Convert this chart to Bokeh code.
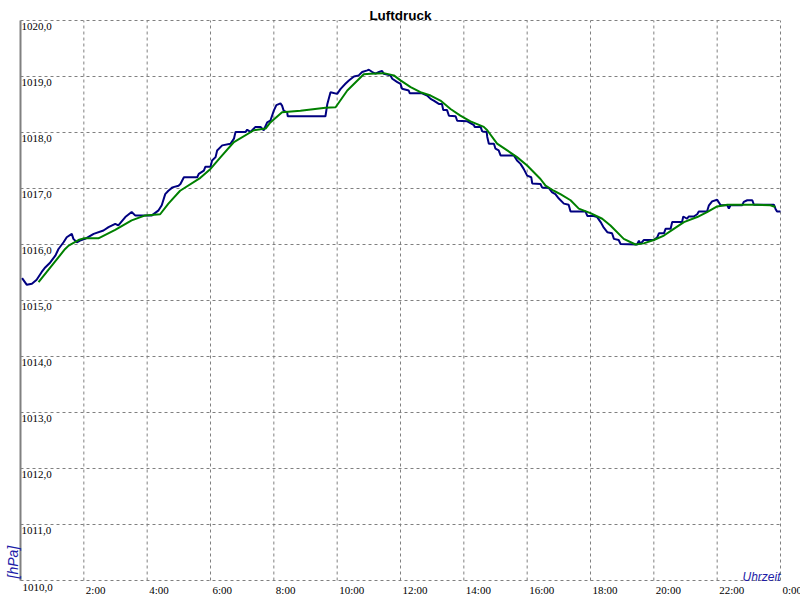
import math
from bokeh.plotting import figure
from bokeh.models import ColumnDataSource, LabelSet, Label, Range1d
from bokeh.embed import file_html
from bokeh.resources import INLINE

# ---- data (hours of day, pressure in hPa) ----
blue_t = [0.05, 0.20, 0.36, 0.51, 0.67, 0.78, 0.94, 1.10, 1.20, 1.36, 1.46, 1.62, 1.67, 1.78, 1.88,
          2.04, 2.31, 2.62, 2.78, 2.99, 3.09, 3.31, 3.51, 3.62, 4.15, 4.36, 4.46, 4.57, 4.67, 4.80,
          4.99, 5.05, 5.16, 5.58, 5.63, 5.79, 5.84, 6.00, 6.05, 6.16, 6.21, 6.37, 6.63, 6.74, 6.79,
          7.11, 7.16, 7.26, 7.42, 7.58, 7.68, 7.79, 7.89, 8.00, 8.08, 8.21, 8.26, 8.31, 8.42, 8.44,
          9.63, 9.69, 9.79, 10.00, 10.11, 10.26, 10.37, 10.53, 10.68, 10.79, 10.95, 11.00, 11.11,
          11.21, 11.32, 11.42, 11.47, 11.68, 11.74, 11.90, 12.00, 12.05, 12.26, 12.29, 12.68, 12.84,
          12.95, 13.05, 13.21, 13.31, 13.35, 13.47, 13.53, 13.74, 13.79, 14.11, 14.32, 14.34, 14.53,
          14.58, 14.72, 14.74, 14.79, 14.95, 15.00, 15.10, 15.16, 15.58, 15.68, 15.79, 15.89, 16.00,
          16.13, 16.16, 16.42, 16.47, 16.68, 16.79, 16.89, 17.00, 17.16, 17.31, 17.37, 17.84, 17.90,
          18.10, 18.21, 18.32, 18.42, 18.53, 18.68, 18.74, 18.89, 18.95, 19.47, 19.53, 19.58, 19.68,
          20.00, 20.11, 20.16, 20.32, 20.37, 20.53, 20.58, 20.89, 20.93, 21.05, 21.10, 21.26, 21.37,
          21.42, 21.68, 21.74, 21.84, 22.00, 22.11, 22.32, 22.37, 22.42, 22.79, 22.84, 22.95, 23.11,
          23.16, 23.79, 23.84, 23.89, 24.00]
blue_p = [1015.40, 1015.28, 1015.30, 1015.37, 1015.51, 1015.59, 1015.68, 1015.80, 1015.92, 1016.04,
          1016.13, 1016.19, 1016.10, 1016.04, 1016.07, 1016.10, 1016.19, 1016.25, 1016.31, 1016.37,
          1016.34, 1016.49, 1016.58, 1016.52, 1016.52, 1016.61, 1016.70, 1016.90, 1016.96, 1017.02,
          1017.05, 1017.08, 1017.20, 1017.20, 1017.26, 1017.32, 1017.39, 1017.39, 1017.50, 1017.56,
          1017.68, 1017.77, 1017.80, 1017.89, 1018.01, 1018.01, 1018.05, 1018.01, 1018.10, 1018.10,
          1018.04, 1018.18, 1018.21, 1018.39, 1018.49, 1018.52, 1018.48, 1018.39, 1018.36, 1018.29,
          1018.29, 1018.51, 1018.72, 1018.69, 1018.78, 1018.87, 1018.93, 1019.00, 1019.02, 1019.08,
          1019.11, 1019.12, 1019.08, 1019.05, 1019.08, 1019.10, 1019.05, 1019.02, 1018.96, 1018.90,
          1018.87, 1018.78, 1018.75, 1018.70, 1018.70, 1018.66, 1018.60, 1018.57, 1018.51, 1018.51,
          1018.40, 1018.40, 1018.30, 1018.29, 1018.21, 1018.20, 1018.13, 1018.10, 1018.10, 1018.02,
          1018.01, 1017.92, 1017.80, 1017.80, 1017.71, 1017.68, 1017.59, 1017.59, 1017.50, 1017.44,
          1017.35, 1017.23, 1017.20, 1017.09, 1017.08, 1017.02, 1017.01, 1016.93, 1016.90, 1016.82,
          1016.73, 1016.71, 1016.59, 1016.59, 1016.51, 1016.51, 1016.49, 1016.40, 1016.30, 1016.22,
          1016.20, 1016.10, 1016.08, 1016.01, 1016.00, 1016.07, 1016.01, 1016.08, 1016.08, 1016.13,
          1016.20, 1016.20, 1016.28, 1016.28, 1016.40, 1016.40, 1016.50, 1016.46, 1016.50, 1016.50,
          1016.54, 1016.59, 1016.59, 1016.70, 1016.77, 1016.80, 1016.70, 1016.70, 1016.64, 1016.70,
          1016.70, 1016.76, 1016.79, 1016.79, 1016.71, 1016.71, 1016.64, 1016.59, 1016.59]

green_t = [0.57, 1.41, 1.52, 1.83, 1.99, 2.46, 2.99, 3.51, 3.94, 4.41, 4.67, 5.04, 5.68, 6.00, 6.32,
           6.74, 7.37, 7.74, 7.89, 8.26, 8.84, 9.63, 9.95, 10.32, 10.84, 11.05, 11.47, 11.79, 12.00,
           12.32, 12.63, 12.95, 13.26, 13.58, 13.89, 14.21, 14.63, 14.74, 15.05, 15.37, 15.68, 16.00,
           16.42, 16.58, 16.84, 17.05, 17.37, 17.63, 18.00, 18.37, 18.63, 19.05, 19.42, 19.68, 20.00,
           20.32, 20.63, 20.95, 21.37, 21.68, 22.00, 22.32, 23.26, 23.68, 23.84]
green_p = [1015.33, 1015.92, 1015.98, 1016.08, 1016.11, 1016.11, 1016.26, 1016.43, 1016.52, 1016.54,
           1016.73, 1016.96, 1017.19, 1017.35, 1017.56, 1017.83, 1018.04, 1018.07, 1018.18, 1018.36,
           1018.39, 1018.44, 1018.45, 1018.75, 1019.04, 1019.05, 1019.06, 1019.02, 1018.93, 1018.81,
           1018.72, 1018.66, 1018.57, 1018.42, 1018.30, 1018.20, 1018.10, 1018.04, 1017.80, 1017.68,
           1017.56, 1017.41, 1017.17, 1017.05, 1016.96, 1016.90, 1016.79, 1016.64, 1016.56, 1016.46,
           1016.34, 1016.10, 1016.00, 1016.02, 1016.08, 1016.16, 1016.28, 1016.40, 1016.49, 1016.58,
           1016.68, 1016.71, 1016.71, 1016.70, 1016.67]

x_min, x_max = 0, 24
y_min, y_max = 1010, 1020
x_tick_hours = [2, 4, 6, 8, 10, 12, 14, 16, 18, 20, 22, 24]
x_tick_labels = ["2:00", "4:00", "6:00", "8:00", "10:00", "12:00", "14:00", "16:00",
                 "18:00", "20:00", "22:00", "0:00"]
y_tick_values = [1010, 1011, 1012, 1013, 1014, 1015, 1016, 1017, 1018, 1019, 1020]

# ---- layout (pixels) ----
W, H = 800, 600
PAD_L, PAD_R, PAD_T, PAD_B = 20, 20, 20, 20
px_per_x = (W - PAD_L - PAD_R) / (x_max - x_min)
px_per_y = (H - PAD_T - PAD_B) / (y_max - y_min)

FONT = "Liberation Sans"
GRID = "#808080"
LBL_BLUE = "#1c1ca8"

p = figure(width=W, height=H,
           x_range=Range1d(x_min - PAD_L / px_per_x, x_max + PAD_R / px_per_x),
           y_range=Range1d(y_min - PAD_B / px_per_y, y_max + PAD_T / px_per_y),
           x_axis_location=None, y_axis_location=None,
           toolbar_location=None, output_backend="svg",
           min_border=0)
p.outline_line_color = None
p.background_fill_color = "white"
p.border_fill_color = "white"
p.xgrid.visible = False
p.ygrid.visible = False

# dashed grid (drawn from the tick arrays)
p.segment(x0=x_tick_hours, y0=[y_min] * len(x_tick_hours),
          x1=x_tick_hours, y1=[y_max] * len(x_tick_hours),
          line_color=GRID, line_width=1, line_dash="3 3")
p.segment(x0=[x_min] * len(y_tick_values), y0=y_tick_values,
          x1=[x_max] * len(y_tick_values), y1=y_tick_values,
          line_color=GRID, line_width=1, line_dash="3 3")
# solid left axis line
p.segment(x0=[x_min], y0=[y_min], x1=[x_min], y1=[y_max], line_color=GRID, line_width=2)

p.line(blue_t, blue_p, line_color="#000080", line_width=2)
p.line(green_t, green_p, line_color="#008000", line_width=2)

# y tick labels inside the plot (1011..1020)
inner = y_tick_values[1:]
ysrc = ColumnDataSource(dict(x=[x_min] * len(inner), y=inner,
                             t=[f"{v:.1f}".replace(".", ",") for v in inner]))
p.add_layout(LabelSet(x="x", y="y", text="t", source=ysrc, x_offset=1, y_offset=-2,
                      text_align="left", text_baseline="top",
                      text_font=FONT, text_font_size="11px", text_color="black"))

# x tick labels plus the lowest y label below the plot
xsrc = ColumnDataSource(dict(x=[x_min] + x_tick_hours, y=[y_min] * (len(x_tick_hours) + 1),
                             t=[f"{y_min:.1f}".replace(".", ",")] + x_tick_labels))
p.add_layout(LabelSet(x="x", y="y", text="t", source=xsrc, x_offset=2, y_offset=-3,
                      text_align="left", text_baseline="top",
                      text_font=FONT, text_font_size="11px", text_color="black"))

p.add_layout(Label(x=(x_min + x_max) / 2, y=y_max, text="Luftdruck", text_align="center",
                   text_baseline="alphabetic", y_offset=5,
                   text_font=FONT, text_font_size="13.5px", text_font_style="bold",
                   text_color="black"))

p.add_layout(Label(x=x_max, y=y_min, text="Uhrzeit", text_align="right",
                   text_baseline="alphabetic", y_offset=4,
                   text_font=FONT, text_font_size="12px", text_font_style="italic",
                   text_color=LBL_BLUE))

p.add_layout(Label(x=x_min, y=y_min, text="[hPa]", text_align="left",
                   text_baseline="alphabetic", angle=math.pi / 2, x_offset=-8, y_offset=2,
                   text_font=FONT, text_font_size="14px", text_font_style="italic",
                   text_color=LBL_BLUE))

open("out.html", "w").write(file_html(p, INLINE))
